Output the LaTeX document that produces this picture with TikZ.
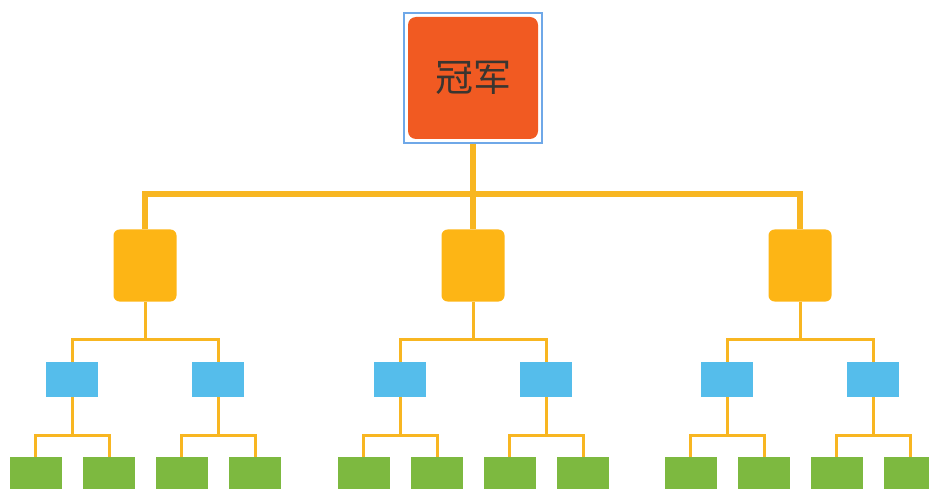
\documentclass[tikz,border=0pt]{standalone}
\usepackage{fontspec}
\newfontfamily\cjk{Noto Sans CJK SC}
\definecolor{champred}{HTML}{F15A22}
\definecolor{outlineblue}{HTML}{6FA8E8}
\definecolor{darktext}{HTML}{3A3530}
\definecolor{orangebox}{HTML}{FDB515}
\definecolor{bluebox}{HTML}{55BDEB}
\definecolor{greenbox}{HTML}{7DB940}
\definecolor{linecol}{HTML}{F8B621}
\tikzset{
  champ/.style={fill=champred, rounded corners=8pt, minimum width=130pt, minimum height=122pt, inner sep=0pt, text=darktext, font=\cjk\fontsize{38}{38}\selectfont},
  champframe/.style={draw=outlineblue, line width=1.5pt, minimum width=138pt, minimum height=130pt, inner sep=0pt},
  lvone/.style={fill=orangebox, rounded corners=6pt, minimum width=63pt, minimum height=72pt, inner sep=0pt},
  lvtwo/.style={fill=bluebox, minimum width=52pt, minimum height=35pt, inner sep=0pt},
  lvthree/.style={fill=greenbox, minimum width=52pt, minimum height=32pt, inner sep=0pt},
  bigline/.style={draw=linecol, line width=6pt},
  tl/.style={draw=linecol, line width=3pt}
}
\begin{document}
\begin{tikzpicture}[x=1pt,y=-1pt]
\useasboundingbox (0,0) rectangle (929,489);
\node[champframe] (cf) at (473,78) {};
\node[champ] (c) at (473,78) {冠军};
\foreach \i/\x in {1/145,2/473,3/800} {
  \node[lvone] (a\i) at (\x,265.5) {};
  \foreach \j/\dx in {1/-73,2/73} {
    \node[lvtwo] (b\i\j) at (\x+\dx,379.5) {};
    \foreach \k/\ddx in {1/-36.5,2/37} {
      \node[lvthree] (g\i\j\k) at (\x+\dx+\ddx,473) {};
    }
    \draw[tl] (g\i\j1.north) -- ++(0,-21) -| (g\i\j2.north);
    \draw[tl] (b\i\j.south) -- ++(0,39);
  }
  \draw[tl] (b\i1.north) -- ++(0,-22) -| (b\i2.north);
  \draw[tl] (a\i.south) -- ++(0,38);
}
\draw[bigline] (a1.north) -- ++(0,-35) -| (a3.north);
\draw[bigline] (cf.south) -- (a2.north);
\end{tikzpicture}
\end{document}
